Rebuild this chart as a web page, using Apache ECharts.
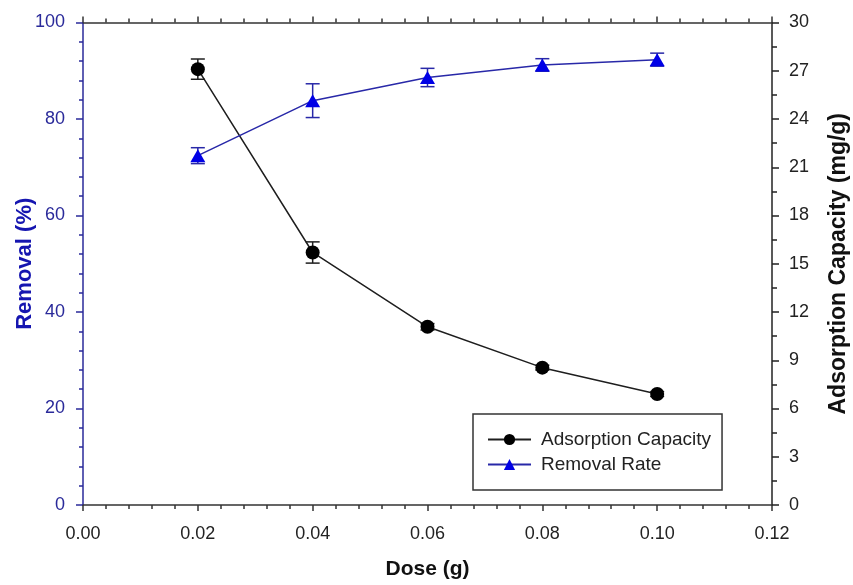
<!DOCTYPE html>
<html>
<head>
<meta charset="utf-8">
<script src="https://cdn.jsdelivr.net/npm/echarts@6/dist/echarts.min.js"></script>
<style>
html,body{margin:0;padding:0;background:#fff;}
#chart{width:853px;height:585px;}
</style>
</head>
<body>
<div id="chart"></div>
<script>
// ---- data ----
const dose = [0.02, 0.04, 0.06, 0.08, 0.10];
const capacity = [27.1, 15.7, 11.08, 8.54, 6.9];        // mg/g (right axis)
const capacityErr = [0.63, 0.66, 0.2, 0.15, 0.15];
const removal = [72.4, 83.8, 88.6, 91.2, 92.3];          // % (left axis)
const removalErr = [1.65, 3.5, 1.9, 1.3, 1.35];
const xTicks = [0, 0.12, 0.02];       // min, max, interval
const leftTicks = [0, 100, 20];
const rightTicks = [0, 30, 3];

const FONT = "'Liberation Sans', Arial, sans-serif";
const BLUE_AXIS = '#2a2a9a';
const BLUE_TITLE = '#1515b0';
const BLUE_LINE = '#2828a8';
const BLUE_MARK = '#0000e6';
const BLACK = '#1e1e1e';

const capPts = dose.map((d, i) => [d, capacity[i]]);
const capErrPts = dose.map((d, i) => [d, capacity[i], capacityErr[i]]);
const remPts = dose.map((d, i) => [d, removal[i]]);
const remErrPts = dose.map((d, i) => [d, removal[i], removalErr[i]]);

function errorBar(color) {
  return function (params, api) {
    const x = api.value(0), y = api.value(1), e = api.value(2);
    const t = api.coord([x, y + e]);
    const b = api.coord([x, y - e]);
    const hw = 7;
    const st = { stroke: color, lineWidth: 1.5 };
    return {
      type: 'group',
      children: [
        { type: 'line', shape: { x1: t[0], y1: t[1], x2: b[0], y2: b[1] }, style: st },
        { type: 'line', shape: { x1: t[0] - hw, y1: t[1], x2: t[0] + hw, y2: t[1] }, style: st },
        { type: 'line', shape: { x1: b[0] - hw, y1: b[1], x2: b[0] + hw, y2: b[1] }, style: st }
      ]
    };
  };
}

const chart = echarts.init(document.getElementById('chart'), null, { renderer: 'canvas' });
chart.setOption({
  animation: false,
  backgroundColor: '#fff',
  textStyle: { fontFamily: FONT },
  grid: { left: 83, right: 81, top: 22.5, bottom: 80, containLabel: false, outerBoundsMode: 'none' },
  xAxis: [{
    type: 'value', position: 'bottom',
    min: xTicks[0], max: xTicks[1], interval: xTicks[2],
    name: 'Dose (g)', nameLocation: 'middle', nameGap: 54,
    nameTextStyle: { fontFamily: FONT, fontSize: 21, fontWeight: 'bold', color: '#111' },
    axisLine: { show: true, onZero: false, lineStyle: { color: '#333', width: 1.5 } },
    axisTick: { show: true, inside: false, length: 6, lineStyle: { color: '#333', width: 1.5 } },
    minorTick: { show: true, splitNumber: 5, length: 4, lineStyle: { color: '#333', width: 1.5 } },
    axisLabel: { fontFamily: FONT, fontSize: 18, color: '#222', margin: 20, formatter: v => v.toFixed(2) },
    splitLine: { show: false }, minorSplitLine: { show: false }
  }, {
    type: 'value', position: 'top',
    min: xTicks[0], max: xTicks[1], interval: xTicks[2],
    axisLine: { show: true, onZero: false, lineStyle: { color: '#333', width: 1.5 } },
    axisTick: { show: true, inside: false, length: 6, lineStyle: { color: '#333', width: 1.5 } },
    minorTick: { show: true, splitNumber: 5, length: 4, lineStyle: { color: '#333', width: 1.5 } },
    axisLabel: { show: false },
    splitLine: { show: false }, minorSplitLine: { show: false }
  }],
  yAxis: [{
    type: 'value', position: 'left',
    min: leftTicks[0], max: leftTicks[1], interval: leftTicks[2],
    name: 'Removal (%)', nameLocation: 'middle', nameGap: 47, nameRotate: 90, nameMoveOverlap: false,
    nameTextStyle: { fontFamily: FONT, fontSize: 22, fontWeight: 'bold', color: BLUE_TITLE },
    axisLine: { show: true, onZero: false, lineStyle: { color: BLUE_AXIS, width: 1.5 } },
    axisTick: { show: true, inside: false, length: 7, lineStyle: { color: BLUE_AXIS, width: 1.5 } },
    minorTick: { show: true, splitNumber: 5, length: 4, lineStyle: { color: BLUE_AXIS, width: 1.5 } },
    axisLabel: { fontFamily: FONT, fontSize: 18, color: BLUE_AXIS, margin: 18 },
    splitLine: { show: false }, minorSplitLine: { show: false }
  }, {
    type: 'value', position: 'right',
    min: rightTicks[0], max: rightTicks[1], interval: rightTicks[2],
    name: 'Adsorption Capacity (mg/g)', nameLocation: 'middle', nameGap: 55, nameRotate: 90, nameMoveOverlap: false,
    nameTextStyle: { fontFamily: FONT, fontSize: 23, fontWeight: 'bold', color: '#111' },
    axisLine: { show: true, onZero: false, lineStyle: { color: '#222', width: 1.5 } },
    axisTick: { show: true, inside: false, length: 7, lineStyle: { color: '#222', width: 1.5 } },
    minorTick: { show: true, splitNumber: 2, length: 5, lineStyle: { color: '#222', width: 1.5 } },
    axisLabel: { fontFamily: FONT, fontSize: 18, color: '#222', margin: 17 },
    splitLine: { show: false }, minorSplitLine: { show: false }
  }],
  legend: {
    orient: 'vertical', left: 473, top: 414,
    data: ['Adsorption Capacity', 'Removal Rate'],
    itemWidth: 43, itemHeight: 14, itemGap: 6,
    padding: [16, 11, 16, 14],
    borderColor: '#333', borderWidth: 1.5, backgroundColor: '#fff',
    textStyle: { fontFamily: FONT, fontSize: 19, color: '#222', padding: [0, 0, 0, 5] }
  },
  series: [{
    name: 'capErr', type: 'custom', xAxisIndex: 0, yAxisIndex: 1,
    renderItem: errorBar(BLACK), data: capErrPts, z: 1, silent: true
  }, {
    name: 'remErr', type: 'custom', xAxisIndex: 0, yAxisIndex: 0,
    renderItem: errorBar(BLUE_LINE), data: remErrPts, z: 1, silent: true
  }, {
    name: 'Adsorption Capacity', type: 'line', xAxisIndex: 0, yAxisIndex: 1,
    data: capPts, symbol: 'circle', symbolSize: 14, z: 3,
    lineStyle: { color: BLACK, width: 1.5 },
    itemStyle: { color: '#000' }
  }, {
    name: 'Removal Rate', type: 'line', xAxisIndex: 0, yAxisIndex: 0,
    data: remPts, symbol: 'triangle', symbolSize: [15, 13], z: 3,
    lineStyle: { color: BLUE_LINE, width: 1.5 },
    itemStyle: { color: BLUE_MARK }
  }]
});
</script>
</body>
</html>
